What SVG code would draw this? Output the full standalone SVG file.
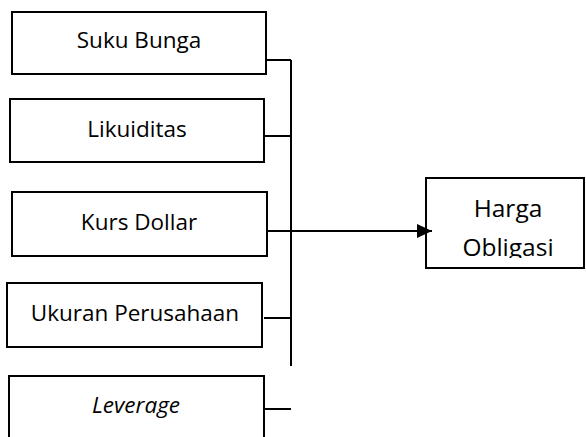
<svg xmlns="http://www.w3.org/2000/svg" width="586" height="437" viewBox="0 0 586 437">
<style>
.box{fill:#fff;stroke:#000;stroke-width:2}
.lbl{font-family:"Open Sans","Noto Sans","Liberation Sans",sans-serif;font-size:22.5px;fill:#000;text-anchor:middle}
.big{font-size:24.5px}
.conn{stroke:#000;stroke-width:2;fill:none}
</style>
<defs>
<marker id="ah" markerWidth="16" markerHeight="14" refX="15" refY="7" orient="auto" markerUnits="userSpaceOnUse">
<path d="M0,0 L15,7 L0,14 Z" fill="#000"/>
</marker>
<clipPath id="clipH"><rect x="426" y="178" width="160" height="80"/></clipPath>
</defs>
<rect width="586" height="437" fill="#fff"/>
<g id="suku-bunga">
<rect class="box" x="12" y="12" width="254" height="62"/>
<text class="lbl" x="139" y="48">Suku Bunga</text>
</g>
<g id="likuiditas">
<rect class="box" x="10" y="99" width="254" height="63"/>
<text class="lbl" x="137" y="137">Likuiditas</text>
</g>
<g id="kurs-dollar">
<rect class="box" x="12" y="192" width="255" height="64"/>
<text class="lbl" x="139" y="230">Kurs Dollar</text>
</g>
<g id="ukuran-perusahaan">
<rect class="box" x="7" y="283" width="255" height="64"/>
<text class="lbl" x="135" y="321">Ukuran Perusahaan</text>
</g>
<g id="leverage">
<path class="box" d="M9,440 V376 H264 V440"/>
<text class="lbl" x="136" y="413" font-style="italic">Leverage</text>
</g>
<g id="harga-obligasi">
<rect class="box" x="426" y="178" width="158" height="90"/>
<g clip-path="url(#clipH)">
<text class="lbl big" x="508" y="217">Harga</text>
<text class="lbl big" x="508" y="256">Obligasi</text>
</g>
</g>
<g id="connectors">
<path class="conn" d="M291,60 V366"/>
<path class="conn" d="M266,60 H291"/>
<path class="conn" d="M264,136 H291"/>
<path class="conn" d="M264,318 H291"/>
<path class="conn" d="M264,409 H291"/>
<path class="conn" d="M268,231 H432" marker-end="url(#ah)"/>
</g>
</svg>
